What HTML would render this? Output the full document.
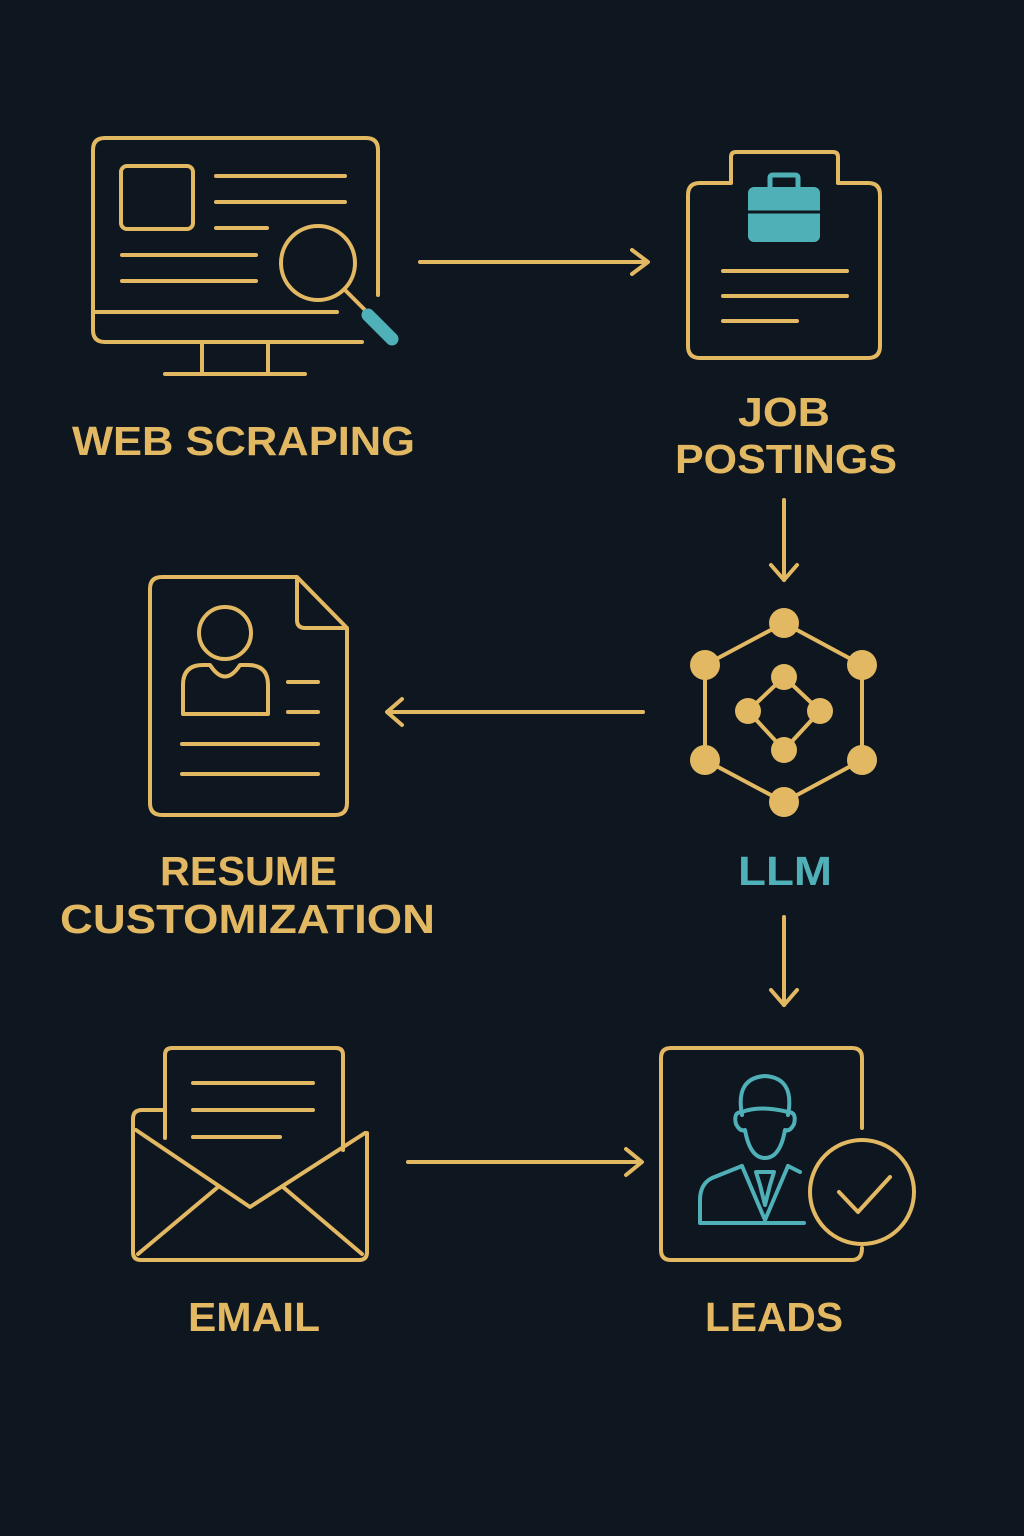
<!DOCTYPE html>
<html><head><meta charset="utf-8"><style>
html,body{margin:0;padding:0;background:#0e1620;}
svg{display:block}
text{font-family:"Liberation Sans",sans-serif;font-weight:bold;}
</style></head><body>
<svg width="1024" height="1536" viewBox="0 0 1024 1536" xmlns="http://www.w3.org/2000/svg">
<rect width="1024" height="1536" fill="#0e1620"/>
<g fill="none" stroke="#e3b862" stroke-width="4" stroke-linecap="round" stroke-linejoin="round">
<!-- monitor -->
<path d="M378,295 L378,150 Q378,138 366,138 L105,138 Q93,138 93,150 L93,330 Q93,342 105,342 L362,342"/>
<line x1="93" y1="312" x2="337" y2="312"/>
<line x1="202" y1="343" x2="202" y2="374"/><line x1="268" y1="343" x2="268" y2="374"/>
<line x1="165" y1="374" x2="305" y2="374"/>
<rect x="121" y="166" width="72" height="63" rx="6"/>
<line x1="216" y1="176" x2="345" y2="176"/><line x1="216" y1="202" x2="345" y2="202"/>
<line x1="216" y1="228" x2="267" y2="228"/><line x1="122" y1="255" x2="256" y2="255"/>
<line x1="122" y1="281" x2="256" y2="281"/>
<circle cx="318" cy="263" r="37"/>
<line x1="345" y1="290" x2="364" y2="309"/>
<!-- clipboard -->
<path d="M731,183 L731,157 Q731,152 736,152 L833,152 Q838,152 838,157 L838,183 L868,183 Q880,183 880,195 L880,346 Q880,358 868,358 L700,358 Q688,358 688,346 L688,195 Q688,183 700,183 Z"/>
<line x1="723" y1="271" x2="847" y2="271"/><line x1="723" y1="296" x2="847" y2="296"/>
<line x1="723" y1="321" x2="797" y2="321"/>
<!-- arrows -->
<line x1="420" y1="262" x2="647" y2="262"/><path d="M632,250 L648,262 L632,274"/>
<line x1="784" y1="500" x2="784" y2="580"/><path d="M771,565 L784,580 L797,565"/>
<line x1="643" y1="712" x2="388" y2="712"/><path d="M402,699 L387,712 L402,725"/>
<line x1="784" y1="917" x2="784" y2="1005"/><path d="M771,990 L784,1005 L797,990"/>
<line x1="408" y1="1162" x2="641" y2="1162"/><path d="M626,1149 L642,1162 L626,1175"/>
<!-- hex -->
<path d="M784,623 L862,665 L862,760 L784,802 L705,760 L705,665 Z"/>
<path d="M784,677 L820,711 L784,750 L748,711 Z"/>
<!-- resume -->
<path d="M297,577 L162,577 Q150,577 150,589 L150,803 Q150,815 162,815 L335,815 Q347,815 347,803 L347,628 Z"/>
<path d="M297,580 L297,620 Q297,628 305,628 L345,628"/>
<circle cx="225" cy="633" r="26"/>
<path d="M183,714 L183,685 Q183,665 203,665 L210,665 Q225,688 240,665 L248,665 Q268,665 268,685 L268,714 Z"/>
<line x1="288" y1="682" x2="318" y2="682"/><line x1="288" y1="712" x2="318" y2="712"/>
<line x1="182" y1="744" x2="318" y2="744"/><line x1="182" y1="774" x2="318" y2="774"/>
<!-- email -->
<path d="M165,1138 L165,1055 Q165,1048 172,1048 L336,1048 Q343,1048 343,1055 L343,1150"/>
<line x1="193" y1="1083" x2="313" y2="1083"/><line x1="193" y1="1110" x2="313" y2="1110"/>
<line x1="193" y1="1137" x2="280" y2="1137"/>
<path d="M165,1110 L142,1110 Q133,1110 133,1119 L133,1252 Q133,1260 141,1260 L359,1260 Q367,1260 367,1252 L367,1133"/>
<path d="M136,1130 L250,1207 L365,1133"/>
<line x1="138" y1="1254" x2="218" y2="1187"/><line x1="362" y1="1254" x2="283" y2="1187"/>
<!-- leads -->
<path d="M862,1128 L862,1058 Q862,1048 852,1048 L671,1048 Q661,1048 661,1058 L661,1250 Q661,1260 671,1260 L852,1260 Q862,1260 862,1248"/>
<circle cx="862" cy="1192" r="52"/>
<path d="M839,1192 L858,1212 L890,1177"/>
</g>
<g fill="#e3b862">
<circle cx="784" cy="623" r="15"/><circle cx="862" cy="665" r="15"/><circle cx="862" cy="760" r="15"/>
<circle cx="784" cy="802" r="15"/><circle cx="705" cy="760" r="15"/><circle cx="705" cy="665" r="15"/>
<circle cx="784" cy="677" r="13"/><circle cx="820" cy="711" r="13"/><circle cx="784" cy="750" r="13"/><circle cx="748" cy="711" r="13"/>
</g>
<!-- teal -->
<line x1="368" y1="315" x2="392" y2="339" stroke="#4fb0b8" stroke-width="13" stroke-linecap="round"/>
<rect x="748" y="187" width="72" height="55" rx="6" fill="#4fb0b8"/>
<path d="M770,188 L770,178 Q770,175 773,175 L795,175 Q798,175 798,178 L798,188" fill="none" stroke="#4fb0b8" stroke-width="5"/>
<line x1="748" y1="212" x2="820" y2="212" stroke="#0e1620" stroke-width="3"/>
<g fill="none" stroke="#4fb0b8" stroke-width="4" stroke-linecap="round" stroke-linejoin="round">
<path d="M742,1115 Q735,1078 765,1076 Q795,1078 788,1115"/>
<path d="M742,1112 Q760,1105 788,1112"/>
<path d="M742,1112 Q733,1112 736,1124 Q740,1132 745,1130 Q750,1158 765,1158 Q780,1158 785,1130 Q790,1132 794,1124 Q797,1112 788,1112"/>
<path d="M742,1166 L712,1178 Q700,1184 700,1200 L700,1223 L804,1223"/>
<path d="M788,1166 L800,1172"/>
<path d="M742,1166 L765,1220 L788,1166"/>
<path d="M756,1172 L774,1172 L770,1185 L765,1205 L760,1185 Z"/>
</g>
<!-- labels -->
<g fill="#e3b862" font-size="41">
<text x="72" y="455" textLength="343" lengthAdjust="spacingAndGlyphs">WEB SCRAPING</text>
<text x="738" y="426" textLength="92" lengthAdjust="spacingAndGlyphs">JOB</text>
<text x="675" y="473" textLength="222" lengthAdjust="spacingAndGlyphs">POSTINGS</text>
<text x="160" y="885" textLength="177" lengthAdjust="spacingAndGlyphs">RESUME</text>
<text x="60" y="933" textLength="375" lengthAdjust="spacingAndGlyphs">CUSTOMIZATION</text>
<text x="188" y="1331" textLength="132" lengthAdjust="spacingAndGlyphs">EMAIL</text>
<text x="705" y="1331" textLength="138" lengthAdjust="spacingAndGlyphs">LEADS</text>
</g>
<text x="738" y="885" font-size="41" fill="#4fb0b8" textLength="94" lengthAdjust="spacingAndGlyphs">LLM</text>
</svg>
</body></html>
